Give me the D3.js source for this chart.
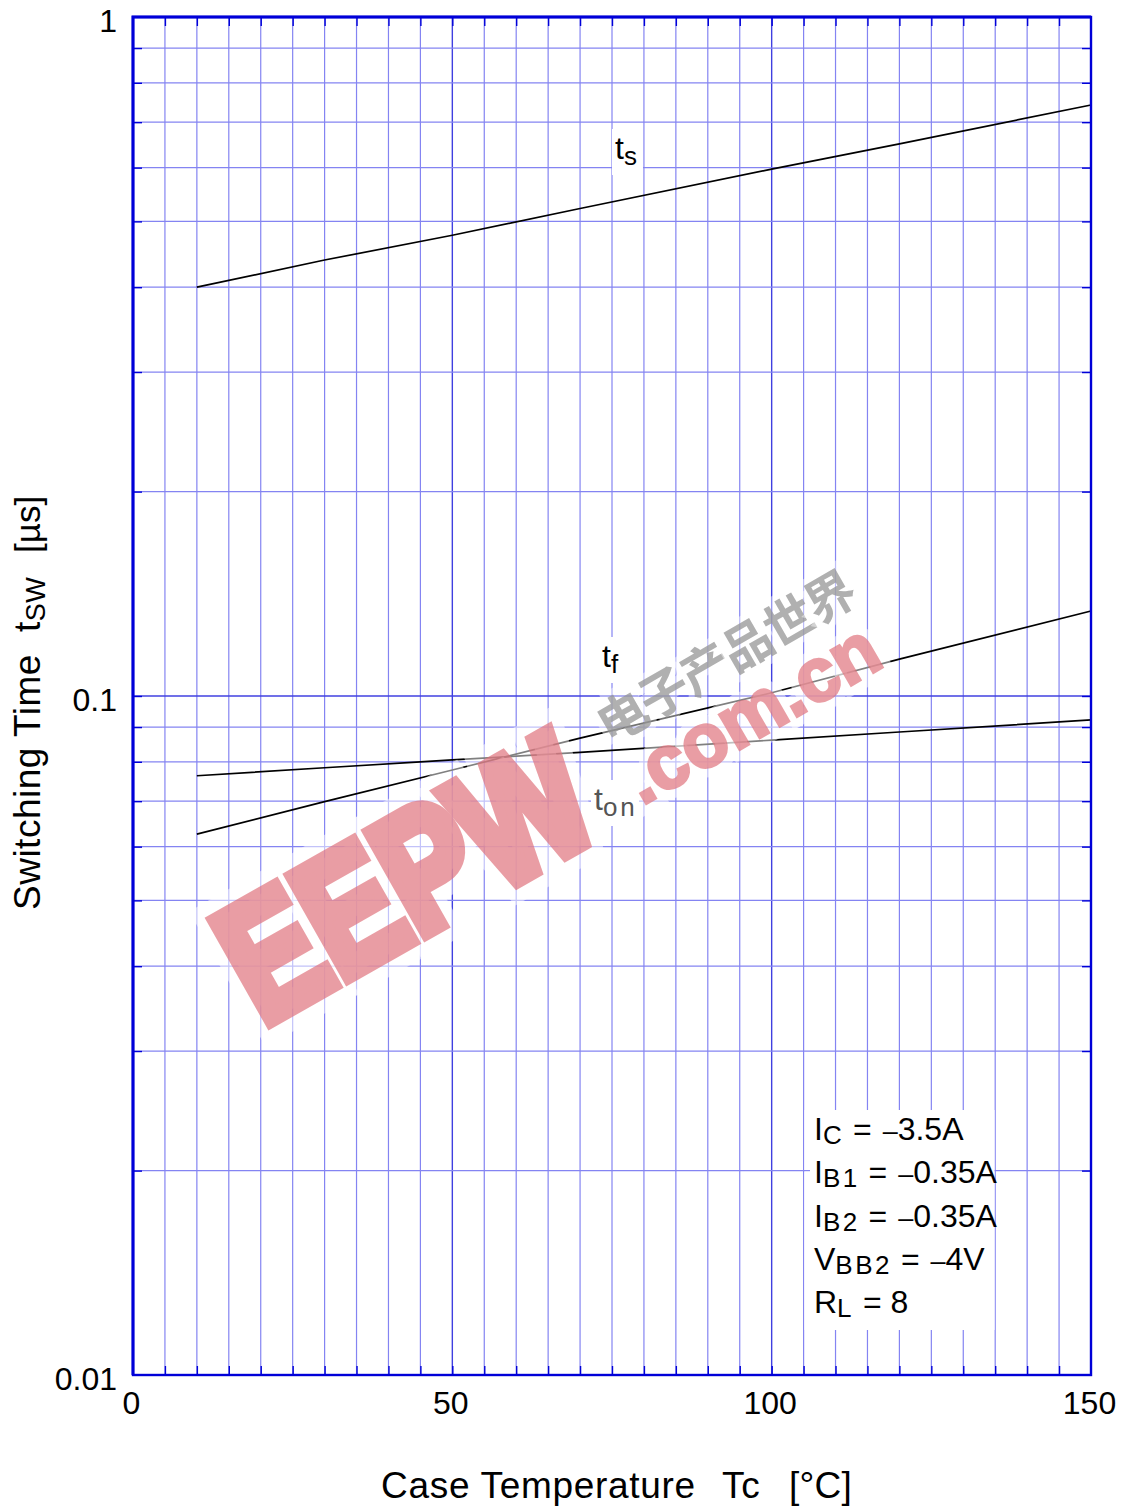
<!DOCTYPE html>
<html>
  <head>
    <meta charset="utf-8">
    <script src="https://cdnjs.cloudflare.com/ajax/libs/d3/7.8.5/d3.min.js"></script>
    <style>
      html, body { margin: 0; padding: 0; background: #fff; }
      svg { display: block; }
      text { font-family: "Liberation Sans", Arial, sans-serif; fill: #000; }
      .grid line { stroke: #8484f2; stroke-width: 1.2; }
      .grid line.major { stroke: #4040e0; stroke-width: 1.4; }
      .curve { fill: none; stroke: #000; stroke-width: 1.7; }
      .frame { fill: none; stroke: #0000d8; stroke-width: 2.4; }
      .axis path, .axis line { stroke: #0000d8; stroke-width: 1.4; }
      .axis path { display: none; }
      .axis text { font-size: 32px; }
    </style>
  </head>
  <body>
    <svg id="chart" width="1128" height="1510"></svg>
    <script>
      // values
      var tempTicks = [0, 50, 100, 150];
      var timeTicks = [1, 0.1, 0.01];

      var tempPts = [10, 30, 50, 70, 100, 120, 150];
      var tsVals = [0.4, 0.4386, 0.477, 0.5224, 0.597, 0.6505, 0.742];
      var tfVals = [0.0626, 0.0699, 0.0778, 0.0867, 0.1011, 0.1133, 0.1334];
      var tonVals = [0.0763, 0.0784, 0.0805, 0.0826, 0.0861, 0.0885, 0.0922];

      var condMain = ["I", "I", "I", "V", "R"];
      var condSub = ["C", "B1", "B2", "BB2", "L"];
      var condValue = ["3.5A", "0.35A", "0.35A", "4V", ""];

      var left = 133, right = 1091, top_ = 17, bottom = 1375;

      var x = d3.scaleLinear().domain([0, 150]).range([left, right]);
      var y = d3.scaleLog().domain([0.01, 1]).range([bottom, top_]);

      var svg = d3.select("#chart");

      // grid
      var xGrid = d3.range(5, 150, 5);
      var yGrid = y.ticks().filter(function (d) { return d > 0.01 && d < 1; });

      var grid = svg.append("g").attr("class", "grid");
      grid.selectAll("line.v").data(xGrid).enter().append("line")
        .attr("class", function (d) { return d % 50 === 0 ? "v major" : "v"; })
        .attr("x1", x).attr("x2", x).attr("y1", top_).attr("y2", bottom);
      grid.selectAll("line.h").data(yGrid).enter().append("line")
        .attr("class", function (d) { return Math.abs(d - 0.1) < 1e-9 ? "h major" : "h"; })
        .attr("y1", y).attr("y2", y).attr("x1", left).attr("x2", right);

      // short dark ticks on the inside of the frame
      var ticks = svg.append("g").attr("class", "axis");
      ["bottom", "top"].forEach(function (side) {
        var a = side === "bottom" ? d3.axisTop(x) : d3.axisBottom(x);
        ticks.append("g")
          .attr("transform", "translate(0," + (side === "bottom" ? bottom : top_) + ")")
          .call(a.tickValues(xGrid).tickSize(9).tickFormat(""));
      });
      ["left", "right"].forEach(function (side) {
        var a = side === "left" ? d3.axisRight(y) : d3.axisLeft(y);
        ticks.append("g")
          .attr("transform", "translate(" + (side === "left" ? left : right) + ",0)")
          .call(a.tickValues(yGrid).tickSize(9).tickFormat(""));
      });

      // curves
      var line = d3.line()
        .x(function (d) { return x(d[0]); })
        .y(function (d) { return y(d[1]); });

      [tsVals, tfVals, tonVals].forEach(function (vals) {
        svg.append("path")
          .attr("class", "curve")
          .attr("d", line(tempPts.map(function (t, i) { return [t, vals[i]]; })));
      });

      svg.append("rect").attr("class", "frame")
        .attr("x", left).attr("y", top_)
        .attr("width", right - left).attr("height", bottom - top_);
      svg.append("path")
        .attr("d", "M" + left + "," + bottom + "V" + top_ + "H" + right)
        .attr("fill", "none").attr("stroke", "#0000d8").attr("stroke-width", 3);

      // tick labels
      var xAxis = d3.axisBottom(x).tickValues(tempTicks).tickSize(0).tickPadding(13)
        .tickFormat(d3.format("d"));
      svg.append("g").attr("class", "axis")
        .attr("transform", "translate(-2," + bottom + ")").call(xAxis)
        .selectAll("text").attr("dy", "0.82em");

      var yAxis = d3.axisLeft(y).tickValues(timeTicks).tickSize(0).tickPadding(16)
        .tickFormat(function (d) { return String(d); });
      svg.append("g").attr("class", "axis")
        .attr("transform", "translate(" + left + ",0)").call(yAxis)
        .selectAll("text").attr("dy", "0.44em");

      // axis titles
      var xTitle = svg.append("text")
        .attr("x", 381).attr("y", 1498)
        .attr("font-size", 37).attr("letter-spacing", 0.7);
      xTitle.append("tspan").text("Case Temperature");
      xTitle.append("tspan").attr("x", 722).text("Tc");
      xTitle.append("tspan").attr("x", 789).attr("letter-spacing", 0.2).text("[°C]");

      var yTitle = svg.append("text")
        .attr("transform", "translate(40,910) rotate(-90)")
        .attr("font-size", 37).attr("letter-spacing", 0.5);
      yTitle.append("tspan").attr("x", 0).text("Switching Time");
      yTitle.append("tspan").attr("x", 278).text("t");
      yTitle.append("tspan").attr("dy", 5).attr("font-size", 27).text("SW");
      yTitle.append("tspan").attr("dy", -5).attr("x", 357).attr("font-size", 35)
        .attr("letter-spacing", 0).text("[µs]");

      // curve labels, white behind them like the reference
      function curveLabel(px, py, main, sub, colour) {
        var g = svg.append("g");
        g.append("rect").attr("x", px - 3).attr("y", py - 30)
          .attr("width", sub.length * 17 + 14).attr("height", 46).attr("fill", "#fff");
        var t = g.append("text").attr("x", px).attr("y", py).attr("font-size", 32)
          .style("fill", colour);
        t.append("tspan").text(main);
        t.append("tspan").attr("dy", 6).attr("font-size", 26)
          .attr("letter-spacing", sub.length > 1 ? 3 : 0).text(sub);
      }
      curveLabel(615, 159, "t", "s", "#000");
      curveLabel(602, 667, "t", "f", "#000");
      curveLabel(594, 810, "t", "on", "#555");

      // conditions block
      svg.append("rect").attr("x", 804.5).attr("y", 1110)
        .attr("width", 190).attr("height", 220).attr("fill", "#fff");
      svg.append("line").attr("class", "stub")
        .attr("x1", 804).attr("x2", 810).attr("y1", y(0.02)).attr("y2", y(0.02))
        .attr("stroke", "#8484f2").attr("stroke-width", 1.2);
      condMain.forEach(function (m, i) {
        var t = svg.append("text")
          .attr("x", 814).attr("y", 1140 + i * 43.3)
          .attr("font-size", 32).attr("xml:space", "preserve");
        t.append("tspan").text(m);
        t.append("tspan").attr("dy", 4).attr("font-size", 26)
          .attr("letter-spacing", 2.5).text(condSub[i]);
        if (condValue[i]) {
          t.append("tspan").attr("dy", -4).text(" = ");
          t.append("tspan").attr("dx", 2).attr("font-size", 27).text("–");
          t.append("tspan").text(condValue[i]);
        } else {
          t.append("tspan").attr("dy", -4).text(" = 8");
        }
      });

      // watermark
      var wm = svg.append("g");
      function wmText(tf, size, len, label, thick, halo) {
        wm.append("text").attr("transform", tf)
          .attr("font-size", size).attr("font-weight", "bold")
          .attr("textLength", len).attr("lengthAdjust", "spacingAndGlyphs")
          .style("fill", "rgba(255,255,255,0.5)")
          .style("stroke", "rgba(255,255,255,0.5)").style("stroke-width", halo)
          .style("paint-order", "stroke")
          .text(label);
        wm.append("g").attr("opacity", 0.68)
          .append("text").attr("transform", tf)
          .attr("font-size", size).attr("font-weight", "bold")
          .attr("textLength", len).attr("lengthAdjust", "spacingAndGlyphs")
          .style("fill", "#e0707a").style("stroke", "#e0707a").style("stroke-width", thick)
          .text(label);
      }
      wmText("translate(262,1026) rotate(-29.5)", 168, 395, "EEPW", 14, 40);
      wmText("translate(642,806) rotate(-30)", 76, 282, ".com.cn", 3, 20);
      wm.append("text")
        .attr("transform", "translate(610,745) rotate(-30)")
        .attr("font-size", 50).attr("font-weight", "bold")
        .attr("textLength", 290)
        .style("font-family", "'Noto Sans CJK SC'")
        .style("fill", "rgba(150,150,150,0.75)")
        .style("stroke", "rgba(255,255,255,0.45)").style("stroke-width", 12)
        .style("paint-order", "stroke")
        .text("电子产品世界");
    </script>
  </body>
</html>
